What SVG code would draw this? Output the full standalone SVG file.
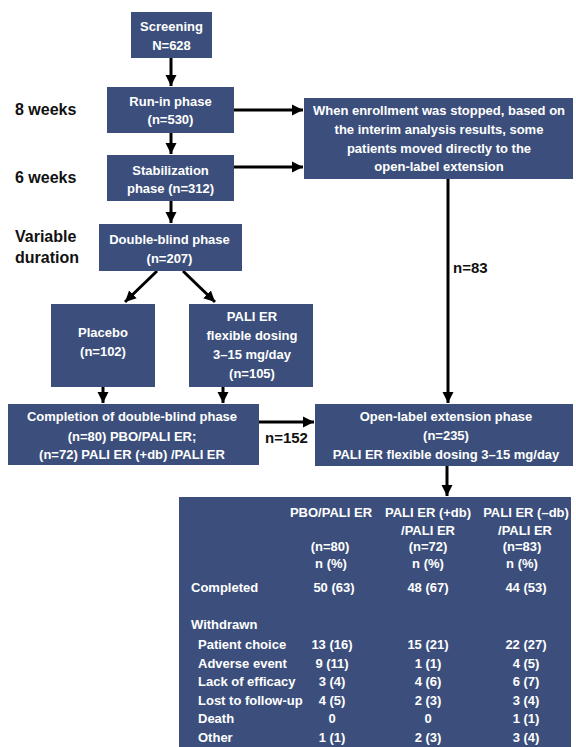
<svg xmlns="http://www.w3.org/2000/svg" width="576" height="747" viewBox="0 0 576 747">
<style>
.box{fill:#3c4f7c}
.t{font-family:"Liberation Sans",Arial,sans-serif;font-weight:bold;font-size:13px;fill:#ffffff}
.m{text-anchor:middle}
.lab{font-family:"Liberation Sans",Arial,sans-serif;font-weight:bold;font-size:16px;fill:#111}
.n{font-family:"Liberation Sans",Arial,sans-serif;font-weight:bold;font-size:15px;fill:#111}
.c{stroke:#000;stroke-width:3;fill:none;marker-end:url(#ah)}
</style>
<defs>
<marker id="ah" markerUnits="userSpaceOnUse" markerWidth="12" markerHeight="12" viewBox="0 0 12 12" refX="11" refY="6" orient="auto">
<path d="M0,0.5 L11,6 L0,11.5 Z" fill="#000"/>
</marker>
</defs>
<rect width="576" height="747" fill="#fff"/>
<g id="labels">
<text class="lab" x="15" y="115">8 weeks</text>
<text class="lab" x="15" y="183">6 weeks</text>
<text class="lab" x="15" y="242">Variable</text>
<text class="lab" x="15" y="263">duration</text>
</g>
<g id="connectors">
<path class="c" d="M171,58 V86"/>
<path class="c" d="M171,133 V154"/>
<path class="c" d="M171,201 V223"/>
<path class="c" d="M234,110 H303"/>
<path class="c" d="M234,167 H303"/>
<path class="c" d="M157,271 L125,302"/>
<path class="c" d="M183,271 L215,302"/>
<path class="c" d="M103,387 V403"/>
<path class="c" d="M223,387 V403"/>
<path class="c" d="M259,422 H314"/>
<path class="c" d="M448,179 V403"/>
<path class="c" d="M447,466 V496"/>
<text class="n" x="453" y="273">n=83</text>
<text class="n" x="265" y="443">n=152</text>
</g>
<g id="screening">
<rect class="box" x="131" y="12" width="81" height="46"/>
<text class="t m" x="171.5" y="31">Screening</text>
<text class="t m" x="171.5" y="50">N=628</text>
</g>
<g id="runin">
<rect class="box" x="107" y="87" width="127" height="46"/>
<text class="t m" x="170.5" y="106">Run-in phase</text>
<text class="t m" x="170.5" y="124">(n=530)</text>
</g>
<g id="stabilization">
<rect class="box" x="107" y="155" width="127" height="46"/>
<text class="t m" x="170.5" y="175">Stabilization</text>
<text class="t m" x="170.5" y="193">phase (n=312)</text>
</g>
<g id="enrollment">
<rect class="box" x="304" y="98" width="269" height="81"/>
<text class="t m" x="439" y="115">When enrollment was stopped, based on</text>
<text class="t m" x="439" y="134">the interim analysis results, some</text>
<text class="t m" x="439" y="153">patients moved directly to the</text>
<text class="t m" x="439" y="171">open-label extension</text>
</g>
<g id="doubleblind">
<rect class="box" x="99" y="224" width="143" height="47"/>
<text class="t m" x="169.5" y="244">Double-blind phase</text>
<text class="t m" x="169.5" y="263">(n=207)</text>
</g>
<g id="placebo">
<rect class="box" x="51" y="304" width="104" height="83"/>
<text class="t m" x="103" y="337">Placebo</text>
<text class="t m" x="103" y="356">(n=102)</text>
</g>
<g id="pali">
<rect class="box" x="189" y="304" width="124" height="83"/>
<text class="t m" x="252" y="321">PALI ER</text>
<text class="t m" x="252" y="340">flexible dosing</text>
<text class="t m" x="252" y="359">3–15 mg/day</text>
<text class="t m" x="252" y="378">(n=105)</text>
</g>
<g id="completion">
<rect class="box" x="8" y="404" width="251" height="61"/>
<text class="t m" x="132" y="421">Completion of double-blind phase</text>
<text class="t m" x="132" y="441">(n=80) PBO/PALI ER;</text>
<text class="t m" x="132" y="459">(n=72) PALI ER (+db) /PALI ER</text>
</g>
<g id="openlabel">
<rect class="box" x="315" y="404" width="258" height="62"/>
<text class="t m" x="446" y="421">Open-label extension phase</text>
<text class="t m" x="446" y="440">(n=235)</text>
<text class="t m" x="446" y="459">PALI ER flexible dosing 3–15 mg/day</text>
</g>
<g id="table">
<rect class="box" x="179" y="497" width="392" height="250"/>
<text class="t m" x="331" y="517">PBO/PALI ER</text>
<text class="t m" x="428" y="517">PALI ER (+db)</text>
<text class="t m" x="526" y="517">PALI ER (–db)</text>
<text class="t m" x="428" y="535">/PALI ER</text>
<text class="t m" x="525" y="535">/PALI ER</text>
<text class="t m" x="330" y="551">(n=80)</text>
<text class="t m" x="428" y="551">(n=72)</text>
<text class="t m" x="522" y="551">(n=83)</text>
<text class="t m" x="331" y="568">n (%)</text>
<text class="t m" x="428" y="568">n (%)</text>
<text class="t m" x="522" y="568">n (%)</text>
<text class="t" x="191" y="592">Completed</text>
<text class="t m" x="334" y="592">50 (63)</text>
<text class="t m" x="428" y="592">48 (67)</text>
<text class="t m" x="526" y="592">44 (53)</text>
<text class="t" x="191" y="629">Withdrawn</text>
<text class="t" x="198" y="649">Patient choice</text>
<text class="t" x="198" y="668">Adverse event</text>
<text class="t" x="198" y="686">Lack of efficacy</text>
<text class="t" x="198" y="705">Lost to follow-up</text>
<text class="t" x="198" y="723">Death</text>
<text class="t" x="198" y="742">Other</text>
<text class="t m" x="332" y="649">13 (16)</text>
<text class="t m" x="332" y="668">9 (11)</text>
<text class="t m" x="332" y="686">3 (4)</text>
<text class="t m" x="332" y="705">4 (5)</text>
<text class="t m" x="332" y="723">0</text>
<text class="t m" x="332" y="742">1 (1)</text>
<text class="t m" x="428" y="649">15 (21)</text>
<text class="t m" x="428" y="668">1 (1)</text>
<text class="t m" x="428" y="686">4 (6)</text>
<text class="t m" x="428" y="705">2 (3)</text>
<text class="t m" x="428" y="723">0</text>
<text class="t m" x="428" y="742">2 (3)</text>
<text class="t m" x="526" y="649">22 (27)</text>
<text class="t m" x="526" y="668">4 (5)</text>
<text class="t m" x="526" y="686">6 (7)</text>
<text class="t m" x="526" y="705">3 (4)</text>
<text class="t m" x="526" y="723">1 (1)</text>
<text class="t m" x="526" y="742">3 (4)</text>
</g>
</svg>
